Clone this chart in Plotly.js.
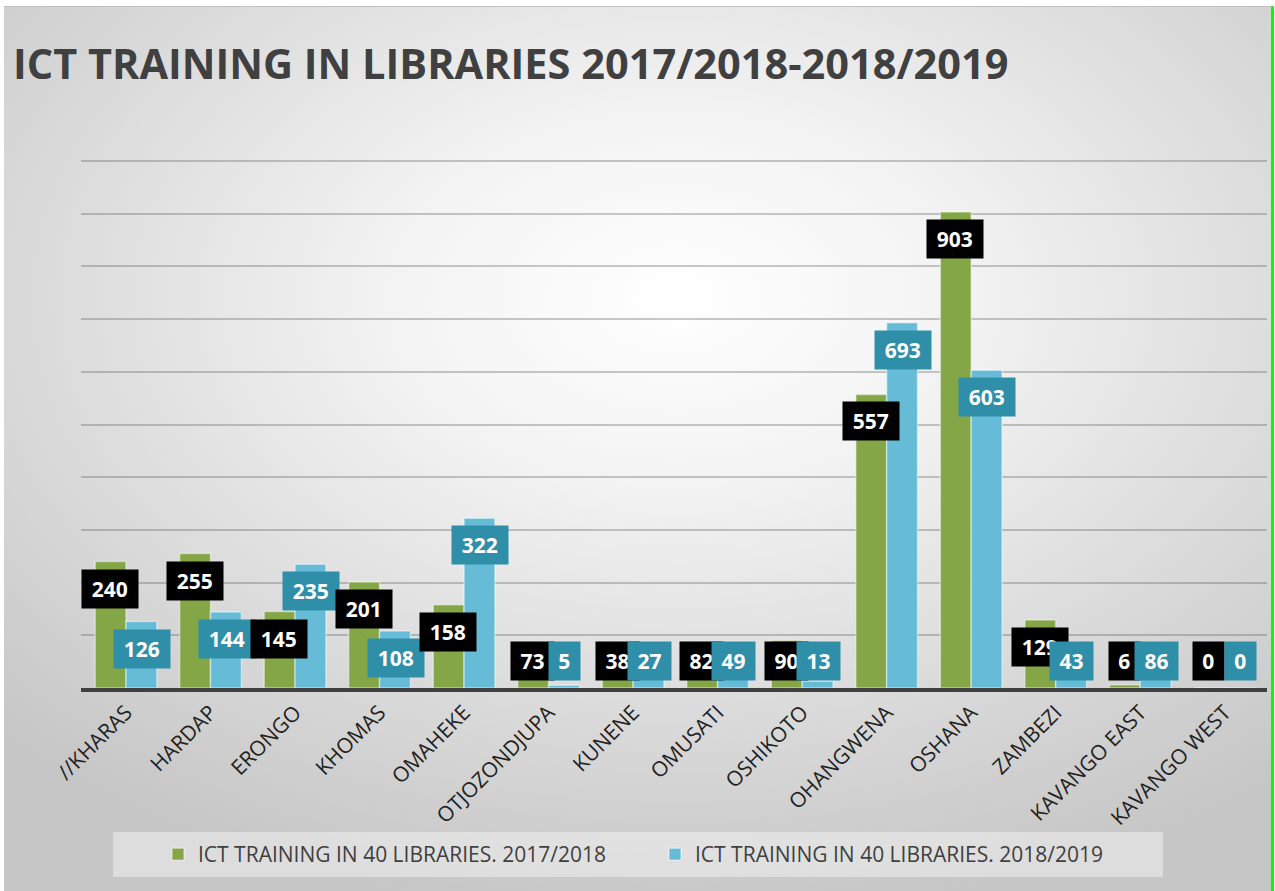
<!DOCTYPE html>
<html>
<head>
<meta charset="utf-8">
<script src="https://cdn.plot.ly/plotly-3.0.1.min.js"></script>
<style>
html,body{margin:0;padding:0;width:1275px;height:891px;overflow:hidden;background:#ffffff;}
#bg{position:absolute;left:4px;top:6px;width:1267px;height:885px;
  background:radial-gradient(ellipse 75% 70% at 53% 33%, #ffffff 0%, #f3f3f3 30%, #dcdcdc 65%, #c6c6c6 100%);
  border-top:1px solid #c0c0c0;border-right:3px solid #00ff00;}
#chart{position:absolute;left:0;top:0;width:1275px;height:891px;}
</style>
</head>
<body>
<div id="bg"></div>
<div id="chart"></div>
<script>
const categories = ["//KHARAS","HARDAP","ERONGO","KHOMAS","OMAHEKE","OTJOZONDJUPA","KUNENE","OMUSATI","OSHIKOTO","OHANGWENA","OSHANA","ZAMBEZI","KAVANGO EAST","KAVANGO WEST"];
const values2017 = [240,255,145,201,158,73,38,82,90,557,903,129,6,0];
const values2018 = [126,144,235,108,322,5,27,49,13,693,603,43,86,0];
const seriesNames = ["ICT TRAINING IN 40 LIBRARIES. 2017/2018","ICT TRAINING IN 40 LIBRARIES. 2018/2019"];
const titleText = "ICT TRAINING IN LIBRARIES 2017/2018-2018/2019";
const gridVals = [100,200,300,400,500,600,700,800,900,1000];

const green = "#84a646", teal = "#66bbd6", tealBox = "#2f8fa9";

const traces = [
  {type:"bar", name:seriesNames[0], x:categories, y:values2017,
   marker:{color:green, line:{color:"rgba(255,255,255,0.45)", width:1.5}}, hoverinfo:"x+y"},
  {type:"bar", name:seriesNames[1], x:categories, y:values2018,
   marker:{color:teal, line:{color:"rgba(255,255,255,0.45)", width:1.5}}, hoverinfo:"x+y"}
];

function labelAnn(cat, v, shift, bg){
  const t = String(v);
  return {x:cat, y:Math.max(v,102), xref:"x", yref:"y", text:t, showarrow:false,
    xshift:shift, yshift:-27, yanchor:"middle", xanchor:"center",
    bgcolor:bg, borderpad:5, width:t.length*12.5+8,
    font:{family:"Open Sans, sans-serif", size:21, color:"#ffffff", weight:700}};
}
const annotations = [];
categories.forEach((c,i)=>{
  annotations.push(labelAnn(c, values2017[i], -16, "#000000"));
  annotations.push(labelAnn(c, values2018[i], 16, tealBox));
});

const plotL = 81, plotR = 1267, plotT = 158, plotB = 688;
const pw = plotR-plotL, ph = plotB-plotT;
const px = v => (v-plotL)/pw, py = v => (plotB-v)/ph;
const yMax = 1000*ph/527;

const layout = {
  width:1275, height:891,
  paper_bgcolor:"rgba(0,0,0,0)", plot_bgcolor:"rgba(0,0,0,0)",
  margin:{l:plotL, r:1275-plotR, t:plotT, b:891-plotB, pad:0},
  title:{text:"<b>"+titleText+"</b>", x:13/1275, xanchor:"left", xref:"container",
    y:1-64/891, yanchor:"middle", yref:"container",
    font:{family:"Open Sans, sans-serif", size:41.5, color:"#404040"}},
  barmode:"group", bargap:0.27, bargroupgap:0,
  xaxis:{type:"category", tickangle:-45, showline:true, linecolor:"#404040", linewidth:4,
    ticks:"", showgrid:false, tickfont:{family:"Open Sans, sans-serif", size:21, color:"#222222"}},
  yaxis:{range:[0,yMax], tickvals:gridVals, showticklabels:false, showgrid:true,
    gridcolor:"rgba(90,90,90,0.33)", gridwidth:2, zeroline:false, layer:"above traces", fixedrange:true},
  showlegend:true,
  legend:{orientation:"h", x:px(158), xanchor:"left", y:py(854.5), yanchor:"middle",
    bgcolor:"rgba(0,0,0,0)", entrywidth:452, entrywidthmode:"pixels",
    font:{family:"Open Sans, sans-serif", size:21, color:"#404040"}},
  shapes:[{type:"rect", xref:"paper", yref:"paper", x0:px(113), x1:px(1163), y0:py(832), y1:py(877),
    fillcolor:"rgba(255,255,255,0.4)", line:{width:0}, layer:"below"}],
  annotations:annotations
};

Plotly.newPlot("chart", traces, layout, {displayModeBar:false, staticPlot:true});
</script>
</body>
</html>
